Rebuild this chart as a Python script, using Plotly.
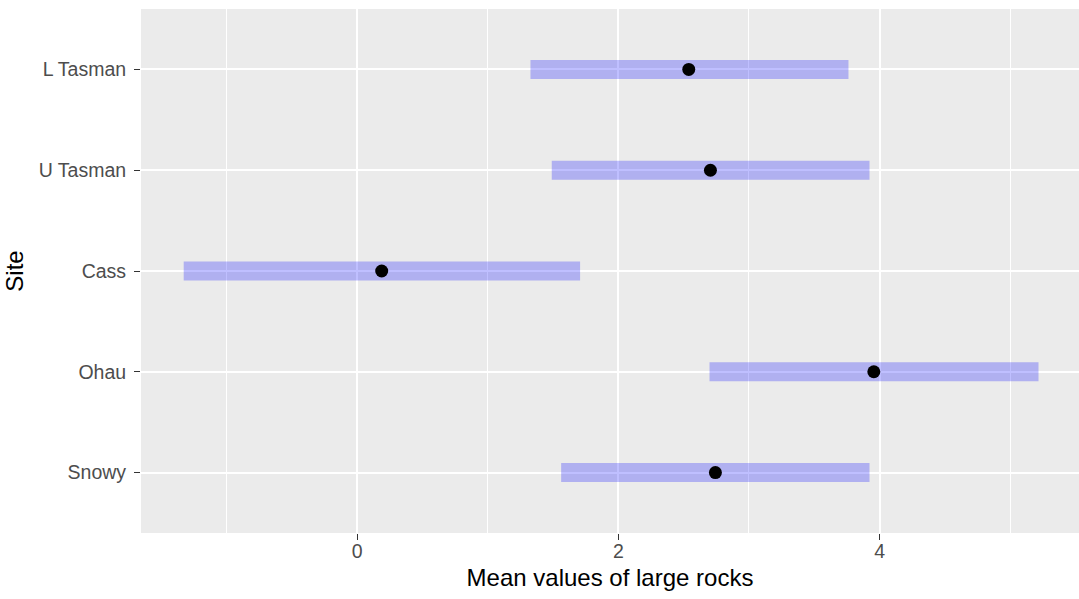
import plotly.graph_objects as go

sites = ["Snowy", "Ohau", "Cass", "U Tasman", "L Tasman"]
means = [2.743, 3.956, 0.188, 2.705, 2.539]
lower = [1.562, 2.698, -1.328, 1.490, 1.327]
upper = [3.923, 5.217, 1.707, 3.923, 3.762]

x_ticks = [0, 2, 4]
x_ticklabels = ["0", "2", "4"]

fig = go.Figure()

fig.add_trace(go.Bar(
    y=sites,
    x=[u - l for u, l in zip(upper, lower)],
    base=lower,
    orientation="h",
    width=0.19,
    marker=dict(color="rgba(0,0,255,0.25)", line=dict(width=0)),
    hoverinfo="skip",
    showlegend=False,
))

fig.add_trace(go.Scatter(
    y=sites,
    x=means,
    mode="markers",
    marker=dict(color="black", size=13),
    showlegend=False,
))

fig.update_layout(
    width=1079,
    height=599,
    margin=dict(l=141, r=0, t=9, b=66),
    paper_bgcolor="white",
    plot_bgcolor="#EBEBEB",
    font=dict(family="Liberation Sans, Arial, sans-serif"),
    showlegend=False,
)

fig.update_xaxes(
    range=[-1.655, 5.527],
    tickvals=x_ticks,
    ticktext=x_ticklabels,
    showgrid=True,
    gridcolor="white",
    gridwidth=1.6,
    minor=dict(dtick=1, tick0=0, showgrid=True, gridcolor="white", gridwidth=0.8),
    zeroline=False,
    showline=False,
    ticks="outside",
    ticklen=6,
    tickwidth=1.4,
    tickcolor="#333333",
    tickfont=dict(size=19.5, color="#4D4D4D"),
    ticklabelstandoff=-5,
    title=dict(text="Mean values of large rocks", font=dict(size=24, color="black"), standoff=7),
)

fig.update_yaxes(
    type="category",
    categoryorder="array",
    categoryarray=sites,
    range=[-0.6, 4.6],
    showgrid=True,
    gridcolor="white",
    gridwidth=1.6,
    zeroline=False,
    showline=False,
    ticks="outside",
    ticklen=6,
    tickwidth=1.4,
    tickcolor="#333333",
    tickfont=dict(size=19.5, color="#4D4D4D"),
    ticklabelstandoff=4,
    title=dict(text="Site", font=dict(size=24, color="black"), standoff=8),
)

fig.write_html("out.html")
